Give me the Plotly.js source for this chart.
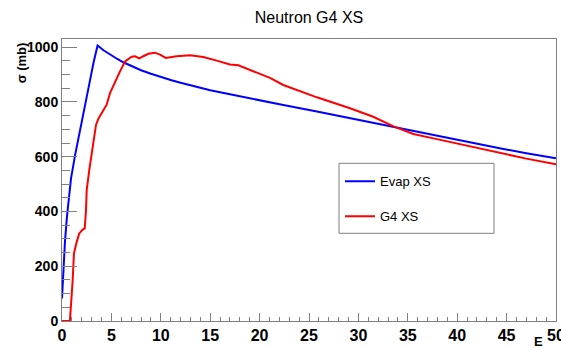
<!DOCTYPE html>
<html>
<head>
<meta charset="utf-8">
<script src="https://cdn.plot.ly/plotly-3.0.1.min.js"></script>
<style>
  html, body { margin: 0; padding: 0; background: #ffffff; }
  #chart { width: 561px; height: 348px; }
</style>
</head>
<body>
<div id="chart"></div>
<script>
// Evaporation-model cross section (mb) versus neutron energy E
const evapE = [0, 0.13, 0.3, 0.5, 0.7, 0.91, 1.32, 1.82, 2.33, 2.83, 3.2, 3.6,
               4.2, 4.9, 5.6, 6.2, 7.0, 8.0, 9.0, 10.0, 11.0, 12.0, 13.3, 15.0, 17.0,
               19.0, 22.4, 25.8, 29.2, 32.5, 35.2, 37.6, 41.0, 44.3, 47.0, 50.0];
const evapXS = [82, 180, 290, 380, 455, 520, 605, 700, 790, 878, 945, 1006,
                989, 972, 957, 945, 931, 916, 903, 891, 880, 870, 858, 843, 828,
                813, 789, 765, 740, 716, 697, 679, 655, 631, 613, 594];

// Geant4 cross section (mb) versus neutron energy E
const g4E = [0, 0.8, 1.08, 1.21, 1.49, 1.75, 2.09, 2.3, 2.43, 2.5, 2.76, 3.17, 3.44, 3.7,
             4.0, 4.52, 4.86, 5.36, 5.87, 6.38, 7.05, 7.39, 7.83, 8.23, 8.74, 9.41, 9.92,
             10.5, 11.6, 12.96, 14.3, 15.66, 17.0, 17.85, 18.7, 19.7, 21.05, 22.4, 25.8,
             29.15, 31.5, 33.5, 35.56, 37.6, 41.0, 44.3, 47.0, 50.0];
const g4XS = [0, 0, 149, 247, 289, 320, 334, 338, 405, 478, 551, 655, 716, 740,
              760, 790, 832, 874, 912, 948, 965, 967, 959, 967, 976, 980, 973,
              961, 967, 971, 964, 951, 937, 934, 922, 909, 888, 862, 817,
              777, 746, 712, 683, 667, 640, 612, 593, 572];

const seriesNames = ["Evap XS", "G4 XS"];
const chartTitle = "Neutron G4 XS";
const xTitle = "E";
const yTitle = "\u03c3 (mb)";

const frameColor = "#808080";
const labelFont = "Liberation Sans, Arial, Helvetica, sans-serif";

const traces = [
  {
    x: evapE, y: evapXS, name: seriesNames[0], type: "scatter", mode: "lines",
    line: { color: "#0000ff", width: 2 }, legendgroup: "a"
  },
  {
    x: g4E, y: g4XS, name: seriesNames[1], type: "scatter", mode: "lines",
    line: { color: "#ff0000", width: 2 }, legendgroup: "b"
  }
];

const layout = {
  width: 561, height: 348,
  margin: { l: 62, r: 5, t: 39, b: 27, pad: 0 },
  paper_bgcolor: "#ffffff", plot_bgcolor: "#ffffff",
  showlegend: true,
  title: {
    text: chartTitle,
    font: { family: labelFont, size: 16, color: "#000000" },
    xref: "paper", x: 0.5, xanchor: "center",
    yref: "container", y: 1 - 17 / 348, yanchor: "middle"
  },
  xaxis: {
    range: [0, 50], dtick: 5, tick0: 0,
    showline: true, mirror: true, linecolor: frameColor, linewidth: 1,
    showgrid: false, zeroline: false,
    ticks: "inside", ticklen: 8, tickcolor: frameColor, tickwidth: 1,
    minor: { dtick: 1, ticks: "inside", ticklen: 4, tickcolor: frameColor, showgrid: false },
    ticklabeloverflow: "allow",
    tickfont: { family: labelFont, size: 16, color: "#000000", weight: "bold" }
  },
  yaxis: {
    range: [0, 1030], dtick: 200, tick0: 0,
    showline: true, mirror: true, linecolor: frameColor, linewidth: 1,
    showgrid: false, zeroline: false,
    ticks: "inside", ticklen: 15, tickcolor: frameColor, tickwidth: 1,
    minor: { dtick: 50, ticks: "inside", ticklen: 8, tickcolor: frameColor, showgrid: false },
    ticklabeloverflow: "allow",
    tickfont: { family: labelFont, size: 14, color: "#000000", weight: "bold" }
  },
  legend: {
    x: (340 - 62) / 494, xanchor: "left",
    y: (320.7 - 166) / 282, yanchor: "top",
    bgcolor: "rgba(0,0,0,0)", borderwidth: 0,
    tracegroupgap: 15,
    font: { family: labelFont, size: 13, color: "#000000" }
  },
  shapes: [
    {
      type: "rect", xref: "paper", yref: "paper", layer: "below",
      x0: (339 - 62) / 494, x1: (494 - 62) / 494,
      y0: (320.7 - 233) / 282, y1: (320.7 - 163) / 282,
      line: { color: frameColor, width: 1 }, fillcolor: "#ffffff"
    }
  ],
  annotations: [
    {
      text: yTitle, textangle: -90, showarrow: false,
      xref: "paper", yref: "paper",
      x: (21 - 62) / 494, xanchor: "center",
      y: (320.7 - 63) / 282, yanchor: "middle",
      font: { family: labelFont, size: 13, color: "#000000", weight: "bold" }
    },
    {
      text: xTitle, showarrow: false,
      xref: "paper", yref: "paper",
      x: (538 - 62) / 494, xanchor: "center",
      y: (320.7 - 341) / 282, yanchor: "middle",
      font: { family: labelFont, size: 13, color: "#000000", weight: "bold" }
    }
  ]
};

Plotly.newPlot("chart", traces, layout, { staticPlot: true, displayModeBar: false });
</script>
</body>
</html>
